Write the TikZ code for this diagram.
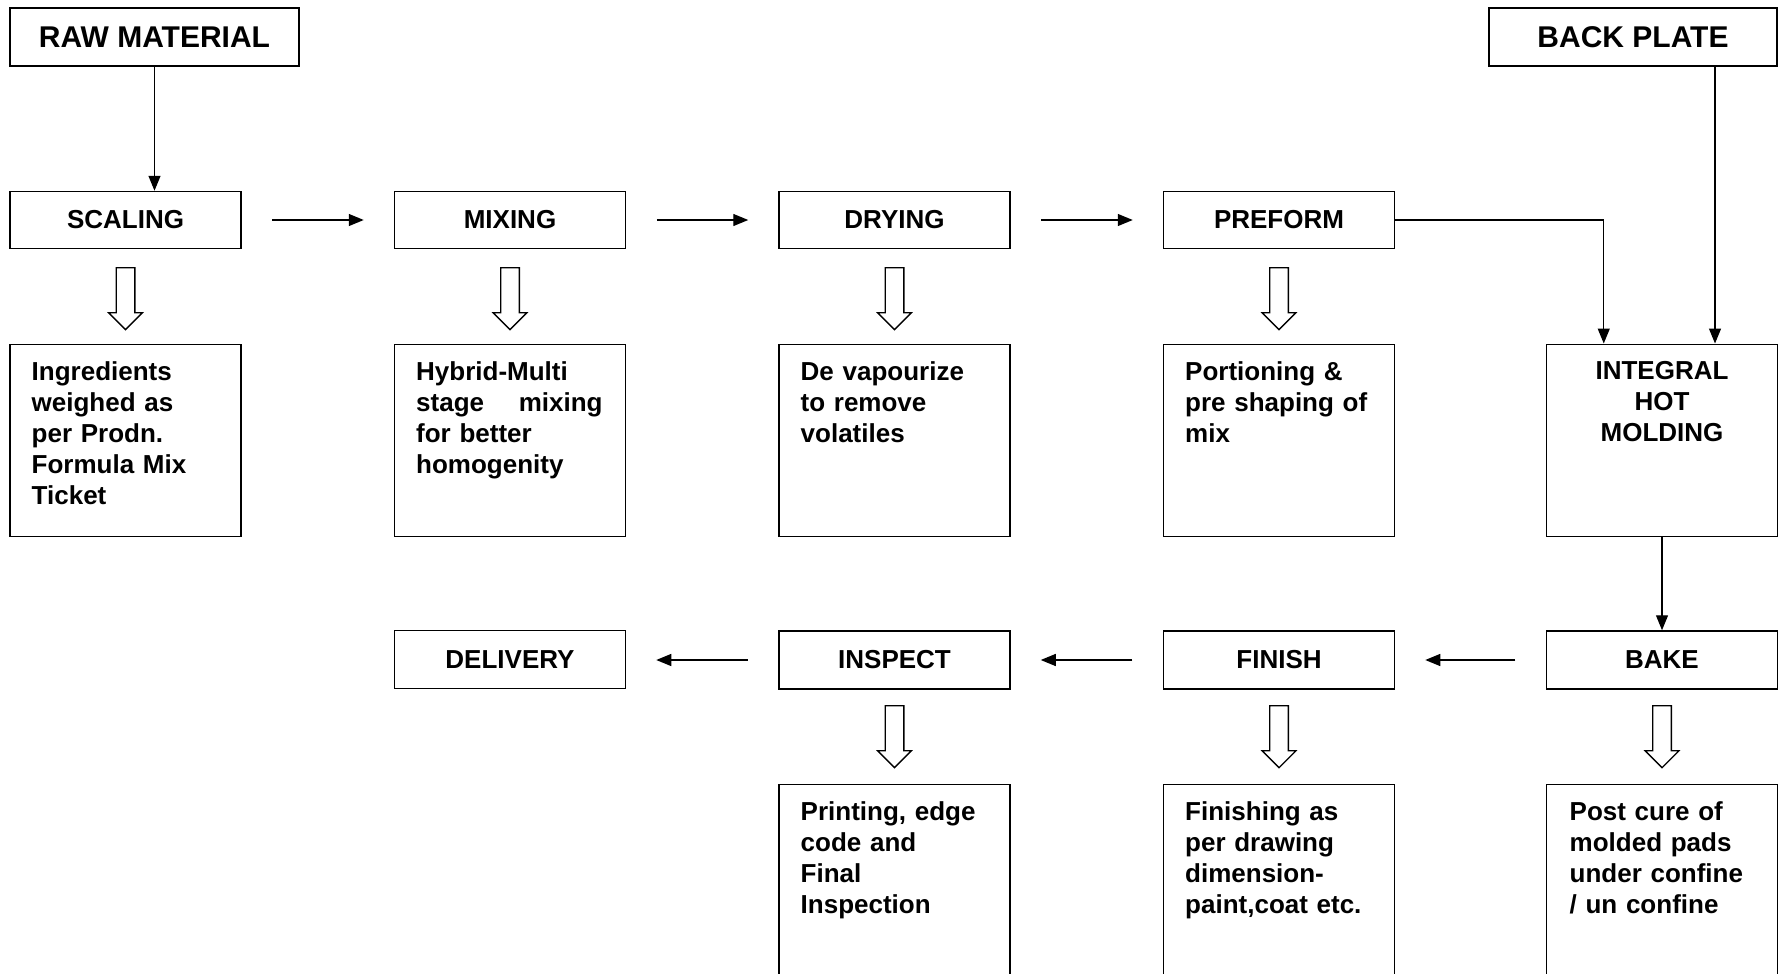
\documentclass[tikz,border=0pt]{standalone}
\usepackage{fontspec}
\setmainfont{Liberation Sans}
\usetikzlibrary{arrows.meta,shapes.arrows}

\begin{document}
\begin{tikzpicture}[x=1pt,y=-1pt,
    box/.style={draw, line width=1.5pt, minimum width=231pt, inner sep=0pt},
    step_box/.style={box, minimum height=57pt},
    top_box/.style={step_box, minimum height=58pt, font=\fontsize{30pt}{36pt}\selectfont\bfseries},
    desc_box/.style={box, minimum height=192pt, anchor=north},
    desc_text/.style={anchor=north west, inner sep=0pt, text width=200pt, align=left},
    flow/.style={line width=1.3pt, -{Triangle[length=15pt,width=12pt]}},
    hollow/.style={single arrow, draw, line width=1.3pt, shape border rotate=270,
        minimum height=62pt, minimum width=32pt, single arrow head extend=7.5pt,
        inner sep=8.7pt, anchor=tail}]
    \useasboundingbox (0,0) rectangle (1778,974);
    \clip (0,0) rectangle (1778,974);
    \begin{scope}[every node/.style={font=\fontsize{26pt}{31pt}\selectfont\bfseries}]

\node[top_box, minimum width=289pt] (raw_material) at ( 154.5,37) {RAW MATERIAL};
\node[top_box, minimum width=288pt] (back_plate)   at (1633.0,37) {BACK PLATE};

\node[step_box] (scaling)  at ( 125.5,220) {SCALING};
\node[step_box] (mixing)   at ( 510.0,220) {MIXING};
\node[step_box] (drying)   at ( 894.5,220) {DRYING};
\node[step_box] (preform)  at (1279.0,220) {PREFORM};

\node[hollow] (scaling_arrow) at ( 125.5,267) {};
\node[hollow] (mixing_arrow)  at ( 510.0,267) {};
\node[hollow] (drying_arrow)  at ( 894.5,267) {};
\node[hollow] (preform_arrow) at (1279.0,267) {};

\node[desc_box] (scaling_box)  at ( 125.5,343.5) {};
\node[desc_box] (mixing_box)   at ( 510.0,343.5) {};
\node[desc_box] (drying_box)   at ( 894.5,343.5) {};
\node[desc_box] (preform_box)  at (1279.0,343.5) {};
\node[desc_box] (integral_box) at (1662.0,343.5) {};

\node[desc_text] (scaling_txt)  at (  31.5,361.5) {Ingredients\\weighed as\\per Prodn.\\Formula Mix\\Ticket};
\node[desc_text] (mixing_txt)   at ( 416.0,361.5) {Hybrid-Multi\\stage~~~~mixing\\for better\\homogenity};
\node[desc_text] (drying_txt)   at ( 800.5,361.5) {De vapourize\\to remove\\volatiles};
\node[desc_text] (preform_txt)  at (1185.0,361.5) {Portioning \&\\pre shaping of\\mix};
\node[anchor=north, inner sep=0pt, align=center] (integral_txt) at (1662.0,361.5) {INTEGRAL\\HOT\\MOLDING};

\node[step_box, minimum height=58pt] (delivery) at ( 510.0,659.5) {DELIVERY};
\node[step_box, minimum height=58pt] (inspect)  at ( 894.5,660) {INSPECT};
\node[step_box, minimum height=58pt] (finish)   at (1279.0,660) {FINISH};
\node[step_box, minimum height=58pt] (bake)     at (1662.0,660) {BAKE};

\node[hollow] (inspect_arrow) at ( 894.5,705) {};
\node[hollow] (finish_arrow)  at (1279.0,705) {};
\node[hollow] (bake_arrow)    at (1662.0,705) {};

\node[desc_box, minimum height=200pt] (inspect_box) at ( 894.5,783.5) {};
\node[desc_box, minimum height=200pt] (finish_box)  at (1279.0,783.5) {};
\node[desc_box, minimum height=200pt] (bake_box)    at (1662.0,783.5) {};

\node[desc_text] (inspect_txt) at ( 800.5,801.5) {Printing, edge\\code and\\Final\\Inspection};
\node[desc_text] (finish_txt)  at (1185.0,801.5) {Finishing as\\per drawing\\dimension-\\paint,coat etc.};
\node[desc_text] (bake_txt)    at (1569.5,801.5) {Post cure of\\molded pads\\under confine\\/ un confine};

\draw[flow] (raw_material.south) -- (raw_material.south |- scaling.north);
\draw[flow, shorten <=30.5pt, shorten >=30pt] (scaling) -- (mixing);
\draw[flow, shorten <=30.5pt, shorten >=30pt] (mixing) -- (drying);
\draw[flow, shorten <=30.5pt, shorten >=30pt] (drying) -- (preform);
\draw[flow] (preform.east) -| ([xshift=58pt]integral_box.north west);
\draw[flow] ([xshift=82pt]back_plate.south) -- ([xshift=82pt]back_plate.south |- integral_box.north);
\draw[flow] (integral_box.south) -- (bake.north);
\draw[flow, shorten <=30.5pt, shorten >=30pt] (bake) -- (finish);
\draw[flow, shorten <=30.5pt, shorten >=30pt] (finish) -- (inspect);
\draw[flow, shorten <=30.5pt, shorten >=30pt] (inspect) -- (inspect -| delivery.east);

    \end{scope}
\end{tikzpicture}
\end{document}
